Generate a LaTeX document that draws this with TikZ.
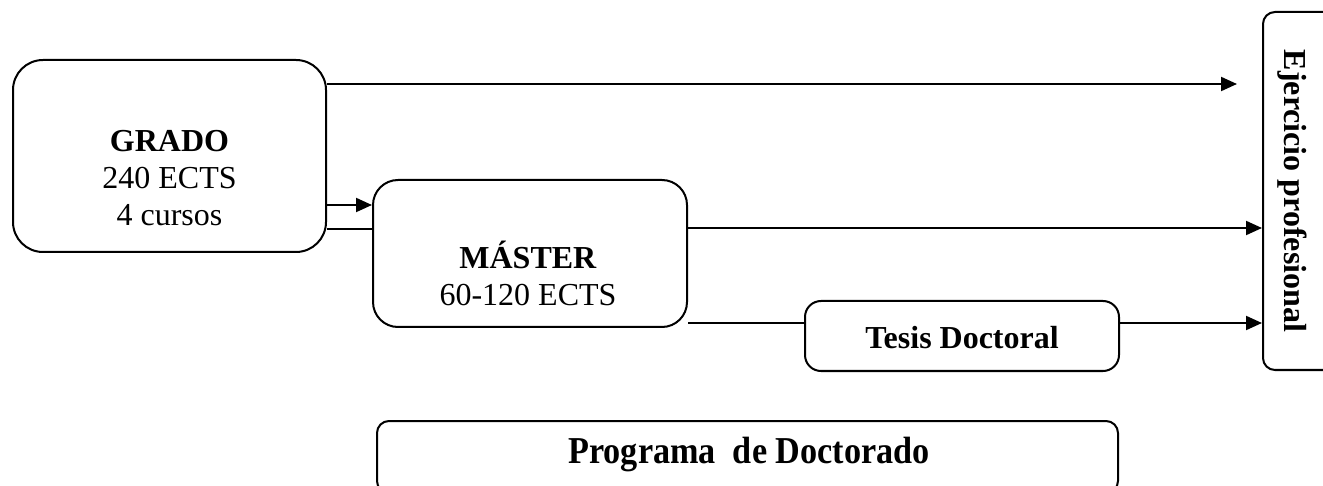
\documentclass[tikz,border=0pt]{standalone}
\usepackage{fontspec}
\setmainfont{Liberation Serif}
\usetikzlibrary{arrows.meta}
\begin{document}
\begin{tikzpicture}[x=0.5pt,y=-0.5pt,
  box/.style={draw, line width=1pt, rectangle, inner sep=0pt},
  txt/.style={align=center, font=\fontsize{16}{18.5}\selectfont, inner sep=0pt},
  arr/.style={line width=1pt, -{Triangle[length=8pt,width=7pt]}},
  ln/.style={line width=1pt}]
\clip (0,0) rectangle (1323,486);
\useasboundingbox (0,0) rectangle (1323,486);
% boxes
\node[box, rounded corners=15pt, minimum width=156.5pt, minimum height=96pt] (grado) at (169.5,156) {};
\node[txt] (gradotxt) at (169.5,178) {\textbf{GRADO}\\240 ECTS\\4 cursos};
\node[box, rounded corners=12.5pt, minimum width=157pt, minimum height=73.5pt] (master) at (530,253.5) {};
\node[txt] (mastertxt) at (528,273) {\textbf{MÁSTER}\\60-120 ECTS};
\node[box, rounded corners=8pt, minimum width=157pt, minimum height=35pt] (tesis) at (962,336) {};
\node[txt, font=\fontsize{16}{18.5}\selectfont\bfseries] (tesistxt) at (962,338) {Tesis Doctoral};
\node[box, rounded corners=6pt, minimum width=370.5pt, minimum height=36pt] (prog) at (747.5,457) {};
\node[txt, font=\fontsize{19}{22}\selectfont\bfseries] (progtxt) at (749,455) {\scalebox{0.9}[1]{Programa\ \ de Doctorado}};
\node[box, rounded corners=6pt, minimum width=45pt, minimum height=179pt] (prof) at (1308,191) {};
\node[font=\fontsize{16}{18.5}\selectfont\bfseries, rotate=-90, anchor=base, inner sep=0pt] (proftxt) at (1284,191) {Ejercicio profesional};
% connectors
\coordinate (topend) at (1237,84);
\draw[arr] (grado.east |- 0,84) -- (topend);
\draw[arr] (grado.east |- 0,205) -- (master.west |- 0,205);
\draw[ln] (grado.east |- 0,229) -- (master.west |- 0,229);
\draw[arr] (master.east |- 0,228) -- (prof.west |- 0,228);
\draw[ln] (master.east |- 0,323) -- (tesis.west |- 0,323);
\draw[arr] (tesis.east |- 0,323) -- (prof.west |- 0,323);
\end{tikzpicture}
\end{document}
